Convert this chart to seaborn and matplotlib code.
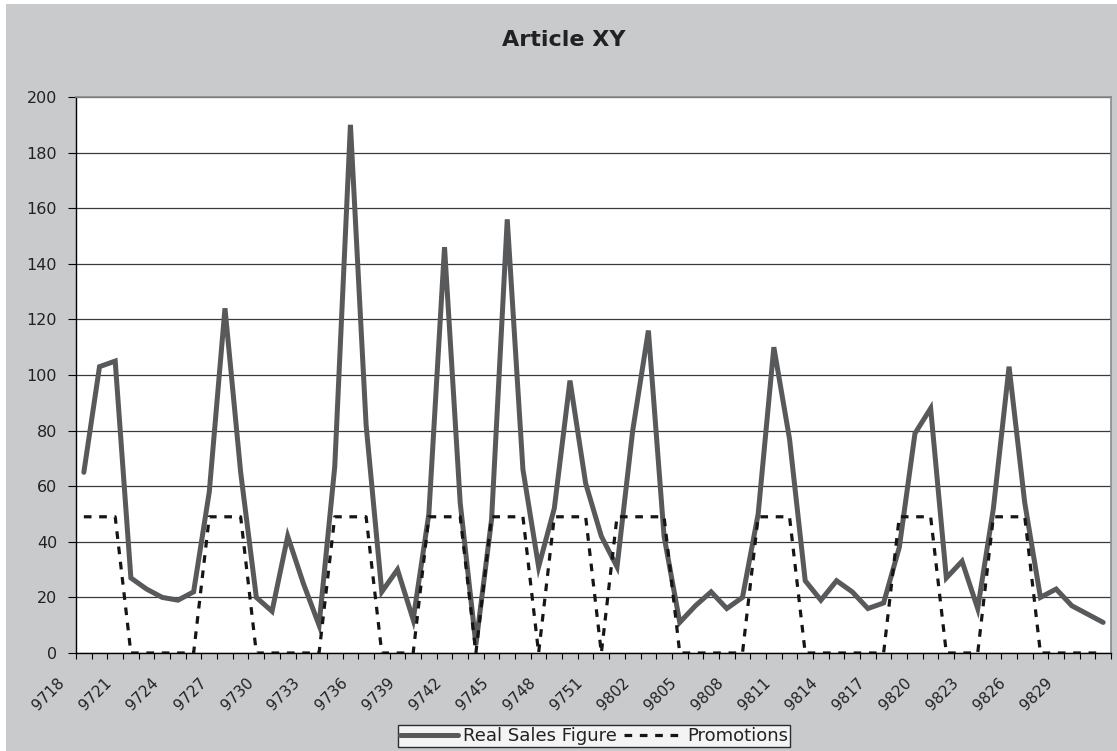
import numpy as np
import pandas as pd
import matplotlib
matplotlib.use("Agg")
import matplotlib.pyplot as plt
import matplotlib.transforms as mtransforms
from matplotlib.patches import Rectangle
from matplotlib.lines import Line2D
import seaborn as sns

# ---- data ----
weeks = [f"97{w:02d}" for w in range(18, 53)] + [f"98{w:02d}" for w in range(1, 32)]
sales = [65, 103, 105, 27, 23, 20, 19, 22, 58, 124,
         65, 20, 15, 42, 25, 10, 67, 190, 82, 22,
         30, 12, 50, 146, 54, 3, 48, 156, 66, 31,
         52, 98, 61, 42, 31, 80, 116, 42, 11, 17,
         22, 16, 20, 50, 110, 77, 26, 19, 26, 22,
         16, 18, 38, 79, 88, 27, 33, 16, 52, 103,
         54, 20, 23, 17, 14, 11]
promotions = [49, 49, 49, 0, 0, 0, 0, 0, 49, 49,
              49, 0, 0, 0, 0, 0, 49, 49, 49, 0,
              0, 0, 49, 49, 49, 0, 49, 49, 49, 0,
              49, 49, 49, 0, 49, 49, 49, 49, 0, 0,
              0, 0, 0, 49, 49, 49, 0, 0, 0, 0,
              0, 0, 49, 49, 49, 0, 0, 0, 49, 49,
              49, 0, 0, 0, 0, 0]
title = "Article XY"
series_names = ["Real Sales Figure", "Promotions"]

df = pd.DataFrame({"pos": np.arange(len(weeks)), "week": weeks,
                   "sales": sales, "promo": promotions})

sns.set_theme(style="white")
plt.rcParams["font.family"] = ["DejaVu Sans"]

W, H = 1117, 751
fig = plt.figure(figsize=(W / 100, H / 100), dpi=100, facecolor="white")
fig.patches.append(Rectangle((6 / W, 0), 1 - 6 / W, 1 - 4 / H, transform=fig.transFigure,
                             facecolor="#c9cacc", edgecolor="none", zorder=-10))

ax = fig.add_axes([76 / W, 98 / H, (1111 - 76) / W, (654 - 98) / H])
ax.set_facecolor("white")

sales_color = "#58595b"
promo_style = (0, (2.4, 2.4))
sns.lineplot(data=df, x="pos", y="sales", ax=ax, color=sales_color, linewidth=3.6,
             solid_joinstyle="miter", zorder=3, legend=False)
sns.lineplot(data=df, x="pos", y="promo", ax=ax, color="#151515", linewidth=2.3,
             linestyle=promo_style, zorder=4, legend=False)

n = len(weeks)
ax.set_xlim(-0.5, n - 0.5)
ax.set_ylim(0, 200)
ax.set_xlabel("")
ax.set_ylabel("")

ax.set_yticks(np.arange(0, 201, 20))
ax.set_yticklabels([str(v) for v in range(0, 201, 20)], fontsize=11.5, color="#222222")
ax.yaxis.grid(True, color="#3a3a3a", linewidth=0.9)
ax.xaxis.grid(False)
ax.set_axisbelow(True)

label_pos = list(range(0, n, 3))
ax.set_xticks(label_pos)
ax.set_xticklabels([weeks[i] for i in label_pos], rotation=45, ha="right", va="top",
                   fontsize=11, color="#222222")
ax.set_xticks(np.arange(-0.5, n, 1), minor=True)
ax.tick_params(axis="x", which="major", length=0, pad=16)
ax.tick_params(axis="x", which="minor", length=4, width=0.8, color="black", direction="out",
               bottom=True)
ax.tick_params(axis="y", which="major", length=5.5, width=0.8, color="black", direction="out",
               pad=8, left=True)

offset = mtransforms.ScaledTranslation(-16 / 100, 0, fig.dpi_scale_trans)
for lbl in ax.get_xticklabels():
    lbl.set_transform(lbl.get_transform() + offset)

for side in ["left", "bottom"]:
    ax.spines[side].set_color("black")
    ax.spines[side].set_linewidth(1.0)
for side in ["top", "right"]:
    ax.spines[side].set_color("#8a8a8a")
    ax.spines[side].set_linewidth(1.2)

fig.text(564 / W, 1 - 46 / H, title, ha="center", va="baseline",
         fontsize=16, fontweight="bold", color="#222222")

handles = [Line2D([], [], color=sales_color, linewidth=3.6),
           Line2D([], [], color="#151515", linewidth=2.3, linestyle=promo_style)]
leg = fig.legend(handles, series_names, loc="center", bbox_to_anchor=(594 / W, 1 - 736 / H),
                 ncol=2, fontsize=13, frameon=True, fancybox=False, handlelength=3.2,
                 handletextpad=0.3, columnspacing=0.4, borderpad=0.12, borderaxespad=0)
leg.get_frame().set_edgecolor("black")
leg.get_frame().set_linewidth(1.0)
leg.get_frame().set_facecolor("white")
for t in leg.get_texts():
    t.set_color("#222222")

fig.savefig("out.png", dpi=100, facecolor=fig.get_facecolor())
